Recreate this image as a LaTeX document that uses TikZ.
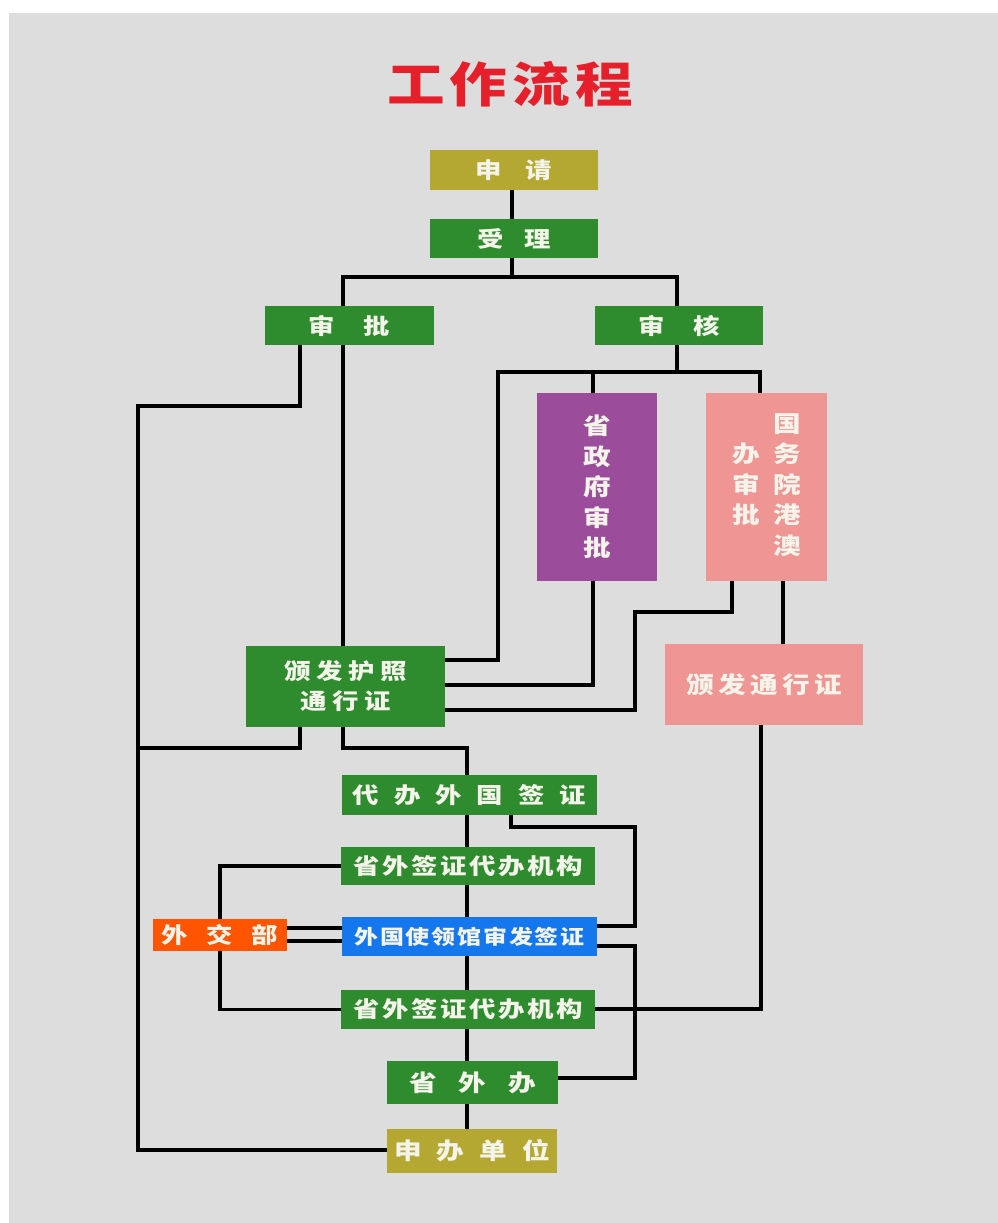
\documentclass[tikz,border=0pt]{standalone}
\usepackage{fontspec}
\newfontfamily\cjk[FakeStretch=1.2]{Noto Sans CJK SC}
\definecolor{bgGray}{HTML}{DDDDDD}
\definecolor{colOlive}{HTML}{B4A833}
\definecolor{colGreen}{HTML}{2E8B2E}
\definecolor{colPurple}{HTML}{9B4D9C}
\definecolor{colPink}{HTML}{EF9593}
\definecolor{colBlue}{HTML}{1477EE}
\definecolor{colOrange}{HTML}{FF5500}
\definecolor{colRed}{HTML}{E5202B}
\definecolor{colText}{HTML}{F4F4EA}
\makeatletter
\newcommand\spaced[2]{\def\spgap{#1}\spaced@i#2\relax}
\def\spaced@i#1#2\relax{#1\if\relax\detokenize{#2}\relax\else\hspace{\spgap}\spaced@i#2\relax\fi}
\makeatother
\pgfdeclarelayer{bglayer}
\pgfdeclarelayer{lnlayer}
\pgfsetlayers{bglayer,lnlayer,main}
\tikzset{
  box/.style={rectangle, inner sep=0pt, text=colText, font=\cjk\bfseries\fontsize{22}{26}\selectfont},
  conn/.style={draw=black, line width=3.5pt}
}
\begin{document}
\begin{tikzpicture}[x=1pt,y=-1pt]
\useasboundingbox (0,0) rectangle (998,1223);
\begin{pgfonlayer}{bglayer}
\fill[white] (0,0) rectangle (998,1223);
\fill[bgGray] (9,13) rectangle (1010,1235);
\end{pgfonlayer}

\node[text=colRed, font=\cjk\bfseries\fontsize{48}{54}\selectfont, inner sep=0pt] (title) at (510,84) {\spaced{5pt}{工作流程}};

\node[box, fill=colOlive, minimum width=168pt, minimum height=40pt] (shenqing) at (514,170) {\spaced{23.5pt}{申请}};
\node[box, fill=colGreen, minimum width=168pt, minimum height=39pt] (shouli) at (514,238.5) {\spaced{20.5pt}{受理}};
\node[box, fill=colGreen, minimum width=169pt, minimum height=39pt] (shenpi) at (349.5,325.5) {\spaced{28.5pt}{审批}};
\node[box, fill=colGreen, minimum width=168pt, minimum height=39pt] (shenhe) at (679,325.5) {\spaced{28.5pt}{审核}};
\node[box, fill=colPurple, minimum width=120pt, minimum height=188pt, align=center, font=\cjk\bfseries\fontsize{23}{30.5}\selectfont] (sheng) at (597,487) {省\\政\\府\\审\\批};
\node[box, fill=colPink, minimum width=121pt, minimum height=188pt, font=\cjk\bfseries\fontsize{23}{30.5}\selectfont] (guowu) at (766.5,487)
  {\begin{tabular}{@{}c@{\hspace{13pt}}c@{}} &国\\ 办&务\\ 审&院\\ 批&港\\ &澳\end{tabular}};
\node[box, fill=colGreen, minimum width=199pt, minimum height=81pt, align=center, font=\cjk\bfseries\fontsize{22}{30}\selectfont] (hzh) at (345.5,686.5) {\spaced{5.5pt}{颁发护照}\\\spaced{5.5pt}{通行证}};
\node[box, fill=colPink, minimum width=198pt, minimum height=81pt, font=\cjk\bfseries\fontsize{23}{30}\selectfont] (btx) at (764,684.5) {\spaced{4.5pt}{颁发通行证}};
\node[box, fill=colGreen, minimum width=255pt, minimum height=40pt, font=\cjk\bfseries\fontsize{22}{28}\selectfont] (daiban) at (469.5,795) {\spaced{15pt}{代办外国签证}};
\node[box, fill=colGreen, minimum width=254pt, minimum height=38pt, font=\cjk\bfseries\fontsize{22}{28}\selectfont] (sw1) at (468,866) {\spaced{2.6pt}{省外签证代办机构}};
\node[box, fill=colBlue, minimum width=255pt, minimum height=39pt, font=\cjk\bfseries\fontsize{20}{25}\selectfont] (wg) at (469.5,936.5) {\spaced{1.8pt}{外国使领馆审发签证}};
\node[box, fill=colGreen, minimum width=254pt, minimum height=39pt, font=\cjk\bfseries\fontsize{22}{28}\selectfont] (sw2) at (468,1009.5) {\spaced{2.6pt}{省外签证代办机构}};
\node[box, fill=colGreen, minimum width=171pt, minimum height=43pt, font=\cjk\bfseries\fontsize{23}{28}\selectfont] (swb) at (472.5,1082.5) {\spaced{22pt}{省外办}};
\node[box, fill=colOlive, minimum width=170pt, minimum height=44pt, font=\cjk\bfseries\fontsize{23}{28}\selectfont] (sbdw) at (472,1151) {\spaced{15pt}{申办单位}};
\node[box, fill=colOrange, minimum width=134pt, minimum height=32pt, font=\cjk\bfseries\fontsize{22}{28}\selectfont] (wjb) at (220,935) {\spaced{18.5pt}{外交部}};

% column and row helpers
\coordinate (cA) at (138,0);
\coordinate (cB) at (300,0);
\coordinate (cC) at (343,0);
\coordinate (cD) at (467,0);
\coordinate (cE) at (498,0);
\coordinate (cF) at (511,0);
\coordinate (cG) at (593,0);
\coordinate (cH) at (635,0);
\coordinate (cI) at (677,0);
\coordinate (cJ) at (732,0);
\coordinate (cK) at (760,0);
\coordinate (cL) at (783,0);
\coordinate (cM) at (220,0);
\coordinate (cN) at (512,0);
\coordinate (cK2) at (761,0);
\coordinate (r1) at (0,277);
\coordinate (r2) at (0,372);
\coordinate (r3) at (0,660);
\coordinate (r4) at (0,685);
\coordinate (r5) at (0,612);
\coordinate (r6) at (0,710);
\coordinate (r7) at (0,406);
\coordinate (r8) at (0,748);
\coordinate (r9) at (0,827);
\coordinate (r10) at (0,926);
\coordinate (r11) at (0,946);
\coordinate (r12) at (0,1078);
\coordinate (r13) at (0,1150);
\coordinate (r14) at (0,1009);
\coordinate (r16) at (0,928);
\coordinate (r17) at (0,941);

\begin{pgfonlayer}{lnlayer}
\draw[conn] (shenqing.south -| cN) -- (shouli.north -| cN);
\draw[conn] (shouli.south -| cN) -- (cN |- r1);
\draw[conn] (shenpi.north -| cC) -- (cC |- r1) -- (cI |- r1) -- (shenhe.north -| cI);
\draw[conn] (shenhe.south -| cI) -- (cI |- r2);
\draw[conn] (hzh.east |- r3) -- (cE |- r3) -- (cE |- r2) -- (cK |- r2) -- (guowu.north -| cK);
\draw[conn] (cG |- r2) -- (sheng.north -| cG);
\draw[conn] (sheng.south -| cG) -- (cG |- r4) -- (hzh.east |- r4);
\draw[conn] (guowu.south -| cJ) -- (cJ |- r5) -- (cH |- r5) -- (cH |- r6) -- (hzh.east |- r6);
\draw[conn] (guowu.south -| cL) -- (btx.north -| cL);
\draw[conn] (shenpi.south -| cB) -- (cB |- r7) -- (cA |- r7) -- (cA |- r13) -- (sbdw.west |- r13);
\draw[conn] (shenpi.south -| cC) -- (hzh.north -| cC);
\draw[conn] (hzh.south -| cB) -- (cB |- r8) -- (cA |- r8);
\draw[conn] (hzh.south -| cC) -- (cC |- r8) -- (cD |- r8) -- (daiban.north -| cD);
\draw[conn] (daiban.south -| cD) -- (sw1.north -| cD);
\draw[conn] (sw1.south -| cD) -- (wg.north -| cD);
\draw[conn] (wg.south -| cD) -- (sw2.north -| cD);
\draw[conn] (sw2.south -| cD) -- (swb.north -| cD);
\draw[conn] (swb.south -| cD) -- (sbdw.north -| cD);
\draw[conn] (daiban.south -| cF) -- (cF |- r9) -- (cH |- r9) -- (cH |- r10) -- (wg.east |- r10);
\draw[conn] (wg.east |- r11) -- (cH |- r11) -- (cH |- r12) -- (swb.east |- r12);
\draw[conn] (btx.south -| cK2) -- (cK2 |- r14) -- (sw2.east |- r14);
\draw[conn] (sw1.west) -- (cM |- sw1.west) -- (wjb.north -| cM);
\draw[conn] (wjb.south -| cM) -- (cM |- sw2.west) -- (sw2.west);
\draw[conn] (wjb.east |- r16) -- (wg.west |- r16);
\draw[conn] (wjb.east |- r17) -- (wg.west |- r17);
\end{pgfonlayer}
\end{tikzpicture}
\end{document}
